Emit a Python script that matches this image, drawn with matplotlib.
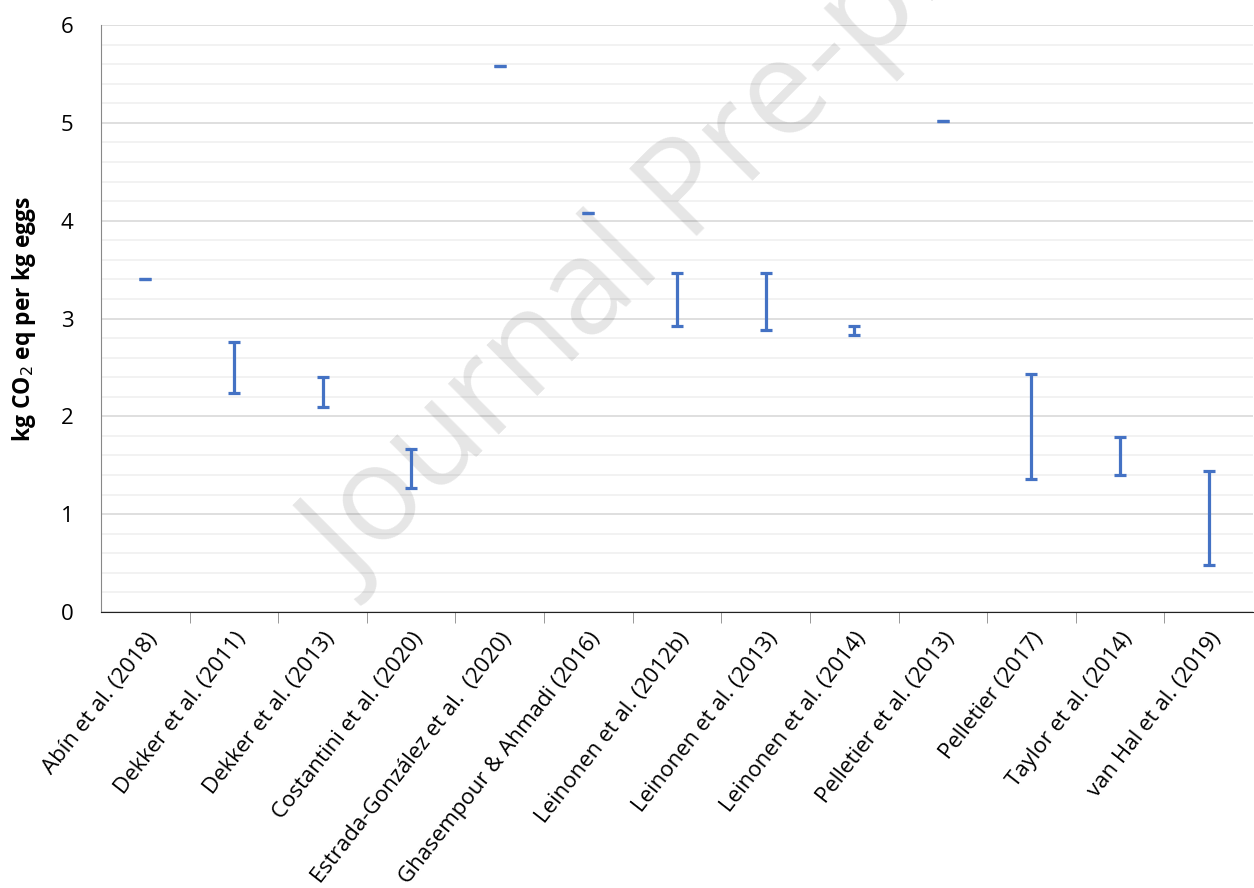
import matplotlib.pyplot as plt
import numpy as np

# studies and reported ranges (kg CO2 eq per kg eggs)
studies = ["Abín et al. (2018)", "Dekker et al. (2011)", "Dekker et al. (2013)",
           "Costantini et al. (2020)", "Estrada-González et al.  (2020)",
           "Ghasempour & Ahmadi (2016)", "Leinonen et al. (2012b)",
           "Leinonen et al. (2013)", "Leinonen et al. (2014)",
           "Pelletier et al. (2013)", "Pelletier (2017)", "Taylor et al. (2014)",
           "van Hal et al. (2019)"]
low = [3.40, 2.24, 2.10, 1.27, 5.58, 4.08, 2.92, 2.88, 2.83, 5.02, 1.36, 1.40, 0.48]
high = [3.40, 2.76, 2.40, 1.67, 5.58, 4.08, 3.47, 3.47, 2.92, 5.02, 2.43, 1.79, 1.44]

plt.rcParams['font.family'] = ['Open Sans', 'DejaVu Sans']

fig = plt.figure(figsize=(12.54, 8.88), dpi=100)
ax = fig.add_axes([101 / 1254, 1 - 612 / 888, 1152 / 1254, 587 / 888])

x = np.arange(len(studies))
lo = np.array(low)
hi = np.array(high)
mid = (lo + hi) / 2
err = (hi - lo) / 2
ax.errorbar(x, mid, yerr=err, fmt='none', ecolor='#4472C4', elinewidth=2.3,
            capsize=4.5, capthick=2.3, zorder=3)

ax.set_xlim(-0.5, len(studies) - 0.5)
ax.set_ylim(0, 6)
ax.set_yticks(range(0, 7))
ax.set_yticks(np.arange(0, 6.01, 0.2), minor=True)
ax.grid(axis='y', which='major', color='#D9D9D9', linewidth=1.2)
ax.grid(axis='y', which='minor', color='#F0F0F0', linewidth=1.2)
ax.set_axisbelow(True)

ax.set_xticks(x)
ax.set_xticklabels(studies, rotation=52, ha='right', rotation_mode='anchor', fontsize=16)
ax.set_xticks(x[:-1] + 0.5, minor=True)
ax.tick_params(axis='x', which='major', length=0, pad=12)
ax.tick_params(axis='x', which='minor', length=8, color='#888888')
ax.tick_params(axis='y', which='both', length=0, labelsize=16, pad=20)

for s in ['top', 'right']:
    ax.spines[s].set_visible(False)
ax.spines['left'].set_color('#888888')
ax.spines['bottom'].set_color('#222222')

ax.set_ylabel("kg CO$_2$ eq per kg eggs", fontsize=16.5, fontweight='bold', labelpad=16)

# watermark, under the error bars
ax.text(0.565, 0.79, "Journal Pre-proof", transform=fig.transFigure, fontsize=96,
        color='#000000', alpha=0.1, rotation=45, ha='center', va='center',
        rotation_mode='anchor', zorder=2, clip_on=False)

fig.savefig("out.png", dpi=100)
